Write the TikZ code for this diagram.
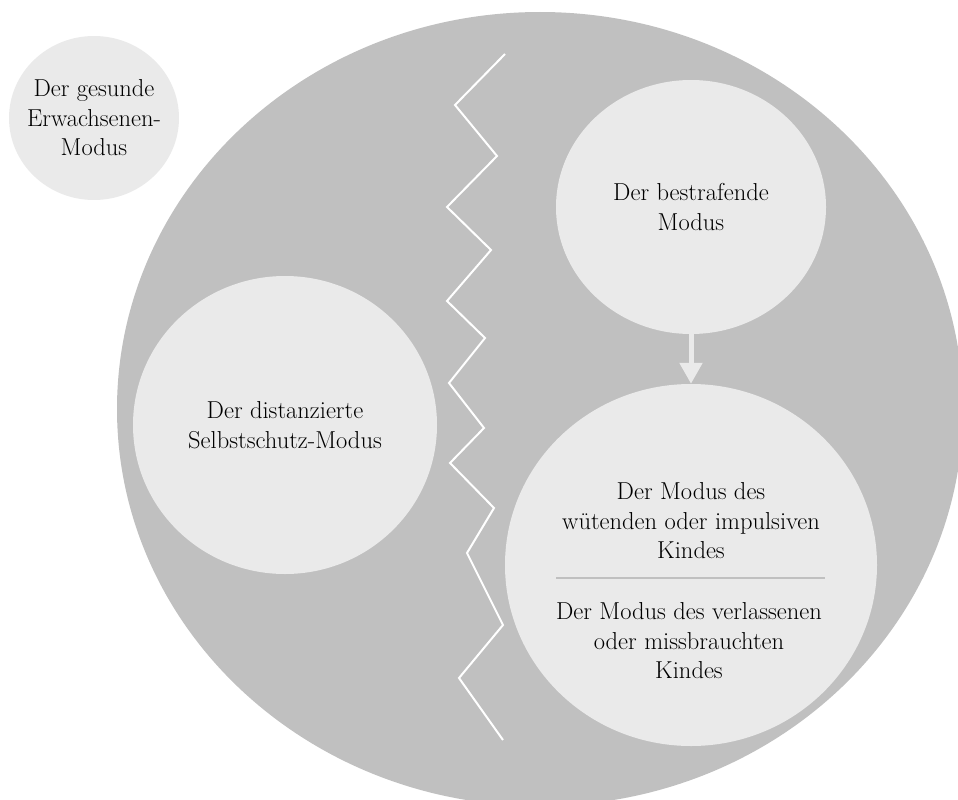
\documentclass[tikz,border=0pt]{standalone}
\usepackage{fontspec}
\usetikzlibrary{shapes.geometric,arrows.meta}
\definecolor{modegray}{HTML}{C0C0C0}
\definecolor{modelight}{HTML}{EAEAEA}
\begin{document}
\begin{tikzpicture}[x=1pt,y=-1pt,
    outer/.style={ellipse,fill=modegray,inner sep=0pt,minimum width=846pt,minimum height=794pt},
    mode/.style={ellipse,fill=modelight,inner sep=0pt},
    modetext/.style={align=center,font=\fontsize{24.5}{29.5}\selectfont},
    arrow/.style={draw=modelight,line width=5pt,-{Triangle[width=22pt,length=21pt,fill=modelight]}},
    crack/.style={white,line width=2pt,line join=miter}
]
\useasboundingbox (0,0) rectangle (958,800);

% Outer field
\node[outer] (self) at (540,409) {};

% Modes
\node[mode,minimum width=170pt,minimum height=164pt] (adult) at (94,118) {};
\node[modetext] (adulttext) at (adult) {Der gesunde\\Erwachsenen-\\Modus};
\node[mode,modetext,minimum width=304pt,minimum height=298pt] (distant) at (285,425) {Der distanzierte\\Selbstschutz-Modus};
\node[mode,modetext,minimum width=270pt,minimum height=254pt] (punish) at (691,207) {Der bestrafende\\Modus};
\node[mode,minimum width=372pt,minimum height=362pt] (child) at (691,565) {};

\node[modetext] (angry) at (691,521) {Der Modus des\\wütenden oder impulsiven\\Kindes};
\node[modetext] (lonely) at (689,641) {Der Modus des verlassenen\\oder missbrauchten\\Kindes};

\coordinate (sepL) at (556,578);
\coordinate (sepR) at (825,578);
\draw[modegray,line width=2pt] (sepL) -- (sepR);

\draw[arrow] (punish) -- (child);

% Split line
\draw[crack] plot coordinates {(505,54) (455,105) (497,156) (447,207) (491,250) (447,301) (485,338) (449,383) (484,428) (450,463) (494,508) (467,553) (503,625) (459,678) (503,740)};

\end{tikzpicture}
\end{document}
